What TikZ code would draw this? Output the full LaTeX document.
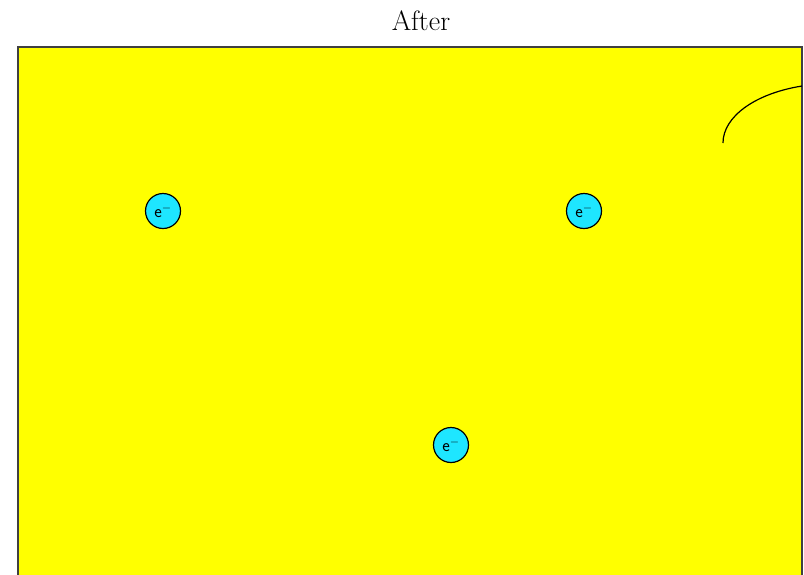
\documentclass[tikz,border=0pt]{standalone}
\usepackage{xcolor}
\usepackage{tikz}
\usetikzlibrary{positioning}

\definecolor{metal}{RGB}{255,255,0}
\definecolor{elec}{RGB}{30,230,255}
\definecolor{edge}{RGB}{64,64,64}

\begin{document}
\begin{tikzpicture}[
  x=1pt, y=-1pt,
  electron/.style={draw,circle,fill=elec,line width=1.2pt,minimum size=35pt,inner sep=0pt,font=\sffamily\fontsize{18}{18}\selectfont}
]
\useasboundingbox (0,0) rectangle (804,574);
\clip (0,0) rectangle (804,574);
\node[font=\fontsize{28}{28}\selectfont] (title) at (421,21) {After};
\draw[edge,fill=metal,line width=2pt] (18,47) rectangle (802,600);
\draw[line width=1.2pt] (723,143) arc[start angle=180,end angle=253.6,x radius=110,y radius=59.4];
\node[electron] (e1) at (163,211) {e$^{-}$};
\node[electron] (e2) at (584,211) {e$^{-}$};
\node[electron] (e3) at (451,445) {e$^{-}$};
\end{tikzpicture}
\end{document}
